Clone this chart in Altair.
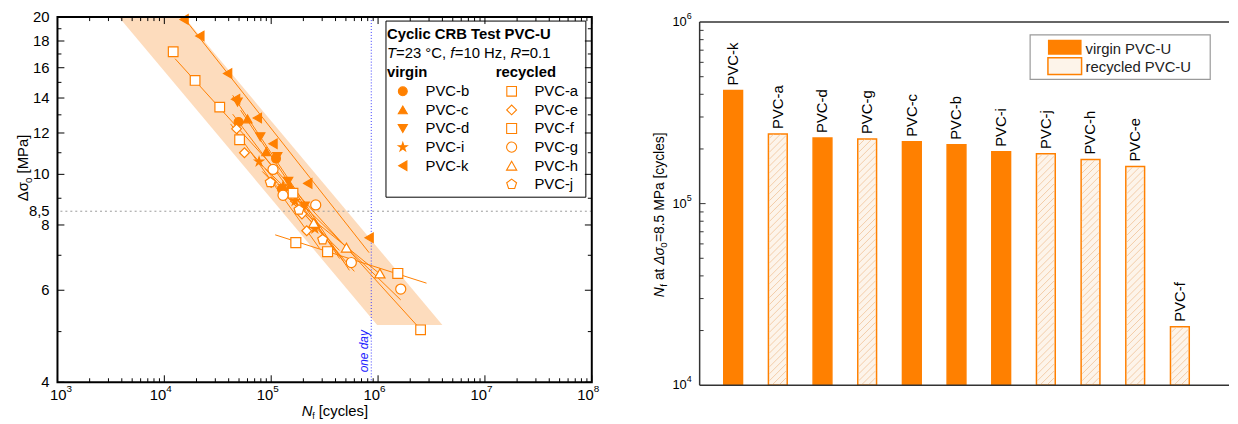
import math
import altair as alt
import pandas as pd

FONT = "Liberation Sans"
ORANGE = "#ff8000"
BAND = "#fddcbd"
PALE = "#fdf4ea"
HATCH = "#f1c8a0"
STAR = "M0,-1L0.2245,-0.309L0.9511,-0.309L0.3633,0.118L0.5878,0.809L0,0.382L-0.5878,0.809L-0.3633,0.118L-0.9511,-0.309L-0.2245,-0.309Z"
PENTA = "M0,-1L0.9511,-0.309L0.5878,0.809L-0.5878,0.809L-0.9511,-0.309Z"

# ---------------- left chart data ----------------
virgin_names = ["PVC-b", "PVC-c", "PVC-d", "PVC-i", "PVC-k"]
recycled_names = ["PVC-a", "PVC-e", "PVC-f", "PVC-g", "PVC-h", "PVC-j"]
virgin_shapes = ["circle", "triangle-up", "triangle-down", STAR, "triangle-left"]
recycled_shapes = ["square", "diamond", "square", "circle", "triangle-up", PENTA]
virgin_sizes = [80, 110, 110, 130, 110]
recycled_sizes = [70, 90, 70, 80, 100, 100]

b_N = [4.95e4, 1.11e5, 1.26e5]
b_S = [12.60, 10.72, 9.37]
c_N = [6.0e4, 9.0e4, 1.50e5, 2.56e5]
c_S = [12.77, 11.05, 9.49, 8.07]
d_N = [4.85e4, 7.9e4, 1.14e5, 1.44e5, 2.06e5]
d_S = [13.75, 11.80, 10.81, 9.70, 8.70]
i_N = [7.7e4, 1.29e5, 1.67e5, 2.56e5]
i_S = [10.58, 9.49, 8.89, 7.87]
k_N = [1.53e4, 2.15e4, 3.91e4, 4.64e4, 7.42e4, 1.04e5, 2.20e5, 8.25e5]
k_S = [19.8, 18.41, 15.60, 13.93, 12.82, 11.44, 9.61, 7.56]
a_N = [1.21e4, 1.94e4, 3.30e4, 5.06e4, 1.60e5, 2.50e6]
a_S = [17.17, 15.13, 13.45, 11.65, 9.20, 5.04]
e_N = [4.74e4, 5.62e4, 1.00e5, 1.94e5, 2.15e5]
e_S = [12.22, 11.00, 9.65, 8.40, 7.80]
f_N = [1.70e5, 3.37e5, 1.53e6]
f_S = [7.40, 7.11, 6.46]
g_N = [1.04e5, 1.29e5, 2.61e5, 5.62e5, 1.63e6]
g_S = [10.22, 9.12, 8.74, 6.78, 6.03]
h_N = [2.50e5, 5.06e5, 1.04e6]
h_S = [8.07, 7.24, 6.46]
j_N = [9.8e4, 1.82e5, 3.03e5]
j_S = [9.65, 8.55, 7.50]

# fitted lines (start / end)
line_names = ["PVC-b", "PVC-c", "PVC-d", "PVC-i", "PVC-k", "PVC-a", "PVC-e", "PVC-f", "PVC-g", "PVC-h", "PVC-j"]
line_N0 = [4.36e4, 5.17e4, 4.36e4, 6.39e4, 1.53e4, 1.26e4, 4.17e4, 1.09e5, 8.80e4, 1.50e5, 8.25e4]
line_S0 = [13.04, 13.27, 14.17, 11.05, 19.91, 16.65, 12.49, 7.66, 10.26, 8.89, 10.13]
line_N1 = [4.84e5, 4.36e5, 5.39e5, 6.0e5, 8.25e5, 2.56e6, 2.84e5, 2.84e6, 1.63e6, 1.14e6, 4.36e5]
line_S1 = [6.78, 6.90, 6.55, 6.52, 7.08, 5.02, 7.21, 6.19, 5.75, 6.35, 7.15]

# scatter band
band_S = [20.0, 5.15]
band_lo = [3.75e3, 9.8e5]
band_hi = [1.53e4, 4.0e6]

one_day = 864000
sigma_ref = 8.5

x_major = [1e3, 1e4, 1e5, 1e6, 1e7, 1e8]
x_exp = ["3", "4", "5", "6", "7", "8"]
x_minor = [m * 10 ** e for e in range(3, 8) for m in range(2, 10)]
y_labels = [4, 6, 8, 8.5, 10, 12, 14, 16, 18, 20]
y_label_text = ["4", "6", "8", "8,5", "10", "12", "14", "16", "18", "20"]
y_major = [4, 6, 8, 10, 12, 14, 16, 18, 20]
y_minor = [5, 7, 9, 11, 13, 15, 17, 19]

# ---------------- right chart data ----------------
bar_names = ["PVC-k", "PVC-a", "PVC-d", "PVC-g", "PVC-c", "PVC-b", "PVC-i", "PVC-j", "PVC-h", "PVC-e", "PVC-f"]
bar_vals = [4.2e5, 2.42e5, 2.30e5, 2.27e5, 2.19e5, 2.11e5, 1.93e5, 1.88e5, 1.75e5, 1.60e5, 2.1e4]
bar_type = ["virgin", "recycled", "virgin", "recycled", "virgin", "virgin", "virgin",
            "recycled", "recycled", "recycled", "recycled"]
r_major = [1e4, 1e5, 1e6]
r_exp = ["4", "5", "6"]
r_minor = [m * 10 ** e for e in range(4, 6) for m in range(2, 10)]

# ---------------- build tables ----------------
series_pts = {
    "PVC-b": (b_N, b_S), "PVC-c": (c_N, c_S), "PVC-d": (d_N, d_S), "PVC-i": (i_N, i_S),
    "PVC-k": (k_N, k_S), "PVC-a": (a_N, a_S), "PVC-e": (e_N, e_S), "PVC-f": (f_N, f_S),
    "PVC-g": (g_N, g_S), "PVC-h": (h_N, h_S), "PVC-j": (j_N, j_S),
}
rows = []
for name, (ns, ss) in series_pts.items():
    for n, s in zip(ns, ss):
        rows.append({"series": name, "N": n, "S": s})
pts = pd.DataFrame(rows)

lrows = []
for nm, n0, s0, n1, s1 in zip(line_names, line_N0, line_S0, line_N1, line_S1):
    lrows.append({"series": nm, "N": n0, "S": s0})
    lrows.append({"series": nm, "N": n1, "S": s1})
lines = pd.DataFrame(lrows)

all_names = virgin_names + recycled_names
all_shapes = virgin_shapes + recycled_shapes
all_fills = [ORANGE] * len(virgin_names) + ["white"] * len(recycled_names)
all_sizes = virgin_sizes + recycled_sizes

band_df = pd.DataFrame({"S": band_S, "lo": band_lo, "hi": band_hi})

W1, H1 = 540, 369
W2, H2 = 535, 372

xs = alt.Scale(type="log", domain=[1e3, 1e8], nice=False)
ys = alt.Scale(type="log", domain=[4, 20], nice=False)


def T(text, x, y, **kw):
    return alt.Chart(pd.DataFrame({"t": [text]})).mark_text(**kw).encode(
        x=alt.value(x), y=alt.value(y), text="t:N")


def R(x, x2, y, y2, **kw):
    return alt.Chart(pd.DataFrame({"a": [0]})).mark_rect(**kw).encode(
        x=alt.value(x), x2=alt.value(x2), y=alt.value(y), y2=alt.value(y2))


band = alt.Chart(band_df).mark_area(orient="horizontal", color=BAND).encode(
    y=alt.Y("S:Q", scale=ys, axis=None),
    x=alt.X("lo:Q", scale=xs, axis=None),
    x2="hi:Q")

hline = alt.Chart(pd.DataFrame({"S": [sigma_ref]})).mark_rule(
    color="#9a9a9a", strokeDash=[2, 3], strokeWidth=1).encode(y=alt.Y("S:Q", scale=ys, axis=None))
vline = alt.Chart(pd.DataFrame({"N": [one_day]})).mark_rule(
    color="#3b3bff", strokeDash=[1, 2], strokeWidth=1).encode(x=alt.X("N:Q", scale=xs, axis=None))

fit = alt.Chart(lines).mark_line(color=ORANGE, strokeWidth=1).encode(
    x=alt.X("N:Q", scale=xs, axis=None), y=alt.Y("S:Q", scale=ys, axis=None), detail="series:N")

points = alt.Chart(pts).mark_point(filled=True, strokeWidth=1.2, opacity=1).encode(
    x=alt.X("N:Q", scale=xs, axis=None), y=alt.Y("S:Q", scale=ys, axis=None),
    shape=alt.Shape("series:N", scale=alt.Scale(domain=all_names, range=all_shapes), legend=None),
    fill=alt.Fill("series:N", scale=alt.Scale(domain=all_names, range=all_fills), legend=None),
    size=alt.Size("series:N", scale=alt.Scale(domain=all_names, range=all_sizes), legend=None),
    stroke=alt.value(ORANGE))

# custom legend (positions from row index)
leg_rows = []
for idx, nm in enumerate(virgin_names):
    leg_rows.append({"series": nm, "lx": 349, "tx": 372, "ly": 75 + idx * 18.8})
for idx, nm in enumerate(recycled_names):
    leg_rows.append({"series": nm, "lx": 459, "tx": 482, "ly": 75 + idx * 18.8})
leg = pd.DataFrame(leg_rows)
leg_sizes = [s * 0.6 for s in all_sizes]

leg_box = R(332, 534, 4, 182, fill="white", stroke="black", strokeWidth=1)
leg_sym = alt.Chart(leg).mark_point(filled=True, strokeWidth=1.1, opacity=1).encode(
    x=alt.X("lx:Q", scale=None, axis=None), y=alt.Y("ly:Q", scale=None, axis=None),
    shape=alt.Shape("series:N", scale=alt.Scale(domain=all_names, range=all_shapes), legend=None),
    fill=alt.Fill("series:N", scale=alt.Scale(domain=all_names, range=all_fills), legend=None),
    size=alt.Size("series:N", scale=alt.Scale(domain=all_names, range=leg_sizes), legend=None),
    stroke=alt.value(ORANGE))
leg_txt = alt.Chart(leg).mark_text(align="left", baseline="middle", fontSize=15, color="black").encode(
    x=alt.X("tx:Q", scale=None, axis=None), y=alt.Y("ly:Q", scale=None, axis=None), text="series:N")

# tick labels (through the scales); the first one is nudged right as in the original
xl_df = pd.DataFrame({"v": x_major, "base": ["10"] * len(x_major), "exp": x_exp})


def x_label_layers(df, shift):
    base = alt.Chart(df).mark_text(align="right", baseline="middle", dx=shift, fontSize=15,
                                   color="black").encode(
        x=alt.X("v:Q", scale=xs, axis=None), y=alt.value(381.5), text="base:N")
    expo = alt.Chart(df).mark_text(align="left", baseline="middle", dx=shift, fontSize=10,
                                   color="black").encode(
        x=alt.X("v:Q", scale=xs, axis=None), y=alt.value(375.5), text="exp:N")
    return [base, expo]


x_labels = x_label_layers(xl_df.iloc[:1], 9) + x_label_layers(xl_df.iloc[1:], 2)
yl_df = pd.DataFrame({"v": y_labels, "t": y_label_text})
y_lab = alt.Chart(yl_df).mark_text(align="right", baseline="middle", fontSize=15, color="black").encode(
    y=alt.Y("v:Q", scale=ys, axis=None), x=alt.value(-8), text="t:N")

left_texts = [
    T("Cyclic CRB Test PVC-U", 333, 22, align="left", baseline="alphabetic", fontSize=15, fontWeight="bold"),
    T("T", 333, 41, align="left", baseline="alphabetic", fontSize=15, fontStyle="italic"),
    T("=23 °C,", 342.2, 41, align="left", baseline="alphabetic", fontSize=15),
    T("f", 397, 41, align="left", baseline="alphabetic", fontSize=15, fontStyle="italic"),
    T("=10 Hz,", 401.5, 41, align="left", baseline="alphabetic", fontSize=15),
    T("R", 457.8, 41, align="left", baseline="alphabetic", fontSize=15, fontStyle="italic"),
    T("=0.1", 468.6, 41, align="left", baseline="alphabetic", fontSize=15),
    T("virgin", 333, 61, align="left", baseline="alphabetic", fontSize=15, fontWeight="bold"),
    T("recycled", 443, 61, align="left", baseline="alphabetic", fontSize=15, fontWeight="bold"),
    T("one day", 314, 359, align="left", baseline="alphabetic", angle=270, fontSize=12,
      fontStyle="italic", color="#2020ff"),
    # x title
    T("N", 247, 403, align="left", baseline="alphabetic", fontSize=15, fontStyle="italic"),
    T("f", 257.5, 406, align="left", baseline="alphabetic", fontSize=9),
    T("[cycles]", 264, 403, align="left", baseline="alphabetic", fontSize=15),
    # y title
    T("Δσ", -30, 186, align="left", baseline="alphabetic", angle=270, fontSize=15),
    T("0", -26, 167.7, align="left", baseline="alphabetic", angle=270, fontSize=10),
    T("[MPa]", -30, 158, align="left", baseline="alphabetic", angle=270, fontSize=15),
]


def xticks(vals, scale, ytop, ybot):
    return alt.Chart(pd.DataFrame({"v": vals})).mark_rule(color="black", strokeWidth=1).encode(
        x=alt.X("v:Q", scale=scale, axis=None), y=alt.value(ytop), y2=alt.value(ybot))


def yticks(vals, scale, x0, x1, color="black"):
    return alt.Chart(pd.DataFrame({"v": vals})).mark_rule(color=color, strokeWidth=1).encode(
        y=alt.Y("v:Q", scale=scale, axis=None), x=alt.value(x0), x2=alt.value(x1))


left_ticks = [
    xticks(x_major, xs, H1 - 7, H1), xticks(x_minor, xs, H1 - 4, H1),
    xticks(x_major, xs, 0, 7), xticks(x_minor, xs, 0, 4),
    yticks(y_major, ys, 0, 7), yticks(y_minor, ys, 0, 4),
    yticks(y_major, ys, W1 - 7, W1), yticks(y_minor, ys, W1 - 4, W1),
]
frame = R(0, W1, 0, H1, fillOpacity=0, stroke="black", strokeWidth=2)

left = alt.layer(band, hline, vline, fit, points, leg_box, leg_sym, leg_txt,
                 *x_labels, y_lab, *left_texts, *left_ticks, frame).properties(width=W1, height=H1)

# ---------------- right chart ----------------
X2_DOM = [0.25, 12.1]
Y2_DOM = [1e4, 1.0647e6]
BAR_W = 19
bar_pos = list(range(1, len(bar_names) + 1))
bar_df = pd.DataFrame({"name": bar_names, "val": bar_vals, "type": bar_type,
                       "pos": bar_pos, "base": [Y2_DOM[0]] * len(bar_names)})
xs2 = alt.Scale(domain=X2_DOM, nice=False, zero=False, padding=0)
ys2 = alt.Scale(type="log", domain=Y2_DOM, nice=False, padding=0)

# diagonal hatching of the recycled bars, derived from the bar geometry
ppu = W2 / (X2_DOM[1] - X2_DOM[0])
ppd = H2 / math.log10(Y2_DOM[1] / Y2_DOM[0])
hatch_rows = []
for p, v, t in zip(bar_pos, bar_vals, bar_type):
    if t != "recycled":
        continue
    w = BAR_W - 2.0
    hgt = math.log10(v / Y2_DOM[0]) * ppd - 1.0
    left_edge = p - (BAR_W / 2 - 1.0) / ppu
    c = -w + 7.0
    while c < hgt:
        lx0, lx1 = max(0.0, -c), min(w, hgt - c)
        if lx1 > lx0:
            hatch_rows.append({
                "x": left_edge + lx0 / ppu, "x2": left_edge + lx1 / ppu,
                "y": Y2_DOM[0] * 10 ** ((lx0 + c + 0.5) / ppd),
                "y2": Y2_DOM[0] * 10 ** ((lx1 + c + 0.5) / ppd)})
        c += 7.0
hatch_df = pd.DataFrame(hatch_rows)

bars = alt.Chart(bar_df).mark_bar(size=BAR_W, strokeWidth=1.5).encode(
    x=alt.X("pos:Q", scale=xs2, axis=None),
    y=alt.Y("val:Q", scale=ys2, axis=None), y2="base:Q",
    fill=alt.Fill("type:N", scale=alt.Scale(domain=["virgin", "recycled"], range=[ORANGE, PALE]), legend=None),
    stroke=alt.value(ORANGE))
hatch = alt.Chart(hatch_df).mark_rule(color=HATCH, strokeWidth=0.9).encode(
    x=alt.X("x:Q", scale=xs2, axis=None), x2="x2:Q",
    y=alt.Y("y:Q", scale=ys2, axis=None), y2="y2:Q")
bar_lbl = alt.Chart(bar_df).mark_text(angle=270, align="left", baseline="middle", dx=5,
                                      fontSize=15, color="black").encode(
    x=alt.X("pos:Q", scale=xs2, axis=None), y=alt.Y("val:Q", scale=ys2, axis=None), text="name:N")

edge_df = pd.DataFrame({"a": [1e4], "b": [1e6]})
r_left = alt.Chart(edge_df).mark_rule(color="#333333", strokeWidth=1.5).encode(
    y=alt.Y("a:Q", scale=ys2, axis=None), y2="b:Q", x=alt.value(0))
r_bottom = alt.Chart(edge_df).mark_rule(color="#333333", strokeWidth=1.5).encode(
    y=alt.Y("a:Q", scale=ys2, axis=None), x=alt.value(0), x2=alt.value(W2))
r_top = alt.Chart(edge_df).mark_rule(color="#333333", strokeWidth=1.5).encode(
    y=alt.Y("b:Q", scale=ys2, axis=None), x=alt.value(0), x2=alt.value(W2))

rl_df = pd.DataFrame({"v": r_major, "base": ["10"] * len(r_major), "exp": r_exp})
r_lab = alt.Chart(rl_df).mark_text(align="right", baseline="middle", fontSize=13, color="black").encode(
    y=alt.Y("v:Q", scale=ys2, axis=None), x=alt.value(-13), text="base:N")
r_lab_e = alt.Chart(rl_df).mark_text(align="left", baseline="middle", dy=-6, fontSize=9, color="black").encode(
    y=alt.Y("v:Q", scale=ys2, axis=None), x=alt.value(-13), text="exp:N")

right_texts = [
    R(334, 516, 18, 63, fill="white", stroke="#9a9a9a", strokeWidth=1.2),
    R(352, 386, 23, 38, fill=ORANGE),
    R(352, 386, 41, 58, fill=PALE, stroke=ORANGE, strokeWidth=1.5),
    T("virgin PVC-U", 390, 32, align="left", baseline="middle", fontSize=15, color="#222222"),
    T("recycled PVC-U", 390, 50, align="left", baseline="middle", fontSize=15, color="#222222"),
    T("N", -36, 283, align="left", baseline="alphabetic", angle=270, fontSize=14, fontStyle="italic"),
    T("f", -33, 272.5, align="left", baseline="alphabetic", angle=270, fontSize=10),
    T("at", -36, 265.8, align="left", baseline="alphabetic", angle=270, fontSize=14),
    T("Δσ", -36, 250.2, align="left", baseline="alphabetic", angle=270, fontSize=14, fontStyle="italic"),
    T("0", -33, 233, align="left", baseline="alphabetic", angle=270, fontSize=10),
    T("=8.5 MPa [cycles]", -36, 227.3, align="left", baseline="alphabetic", angle=270, fontSize=14),
]
right_ticks = [yticks([1e5], ys2, 0, 6, "#333333"), yticks(r_minor, ys2, 0, 4, "#333333")]

right = alt.layer(bars, hatch, bar_lbl, r_left, r_bottom, r_top, r_lab, r_lab_e,
                  *right_ticks, *right_texts).properties(width=W2, height=H2)

chart = alt.hconcat(left, right, spacing=109, bounds="flush").resolve_scale(
    fill="independent", shape="independent", size="independent"
).properties(
    padding={"left": 8, "top": 0, "right": 0, "bottom": 0}
).configure(font=FONT).configure_view(strokeWidth=0)

chart.save("out.html", embed_options={"renderer": "svg", "actions": False})
